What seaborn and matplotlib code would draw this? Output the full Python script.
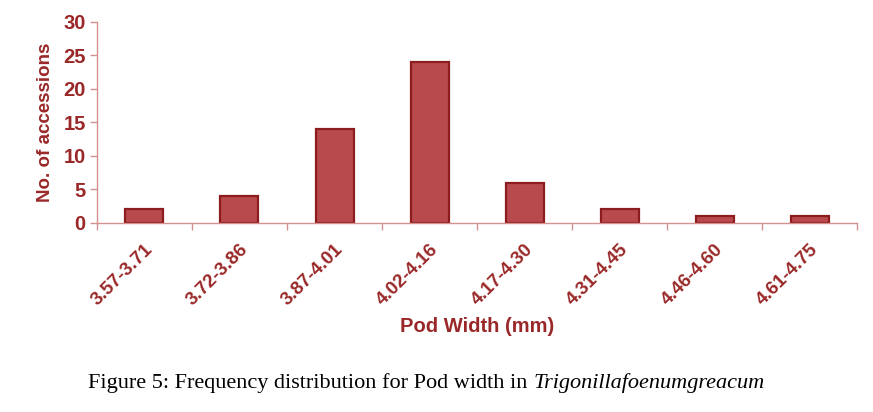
import matplotlib
matplotlib.use("Agg")
import matplotlib.pyplot as plt
import matplotlib.transforms as mtransforms
import seaborn as sns
import pandas as pd

# pod width classes (mm) and number of accessions in each
width_classes = ["3.57-3.71", "3.72-3.86", "3.87-4.01", "4.02-4.16",
                 "4.17-4.30", "4.31-4.45", "4.46-4.60", "4.61-4.75"]
accessions = [2, 4, 14, 24, 6, 2, 1, 1]

y_ticks = [0, 5, 10, 15, 20, 25, 30]

dark_red = "#9a2828"
bar_fill = "#b84a4e"
bar_edge = "#8c1c1e"
axis_col = "#d59090"

sns.set_theme(style="white")
plt.rcParams["font.family"] = ["Liberation Sans", "DejaVu Sans"]

df = pd.DataFrame({"width": width_classes, "count": accessions})

fig = plt.figure(figsize=(8.73, 4.12), dpi=100)
ax = fig.add_axes([0.111, 0.459, 0.871, 0.488])

sns.barplot(data=df, x="width", y="count", ax=ax, color=bar_fill,
            edgecolor=bar_edge, linewidth=1.6, width=0.4, saturation=1)

ax.set_xlim(-0.5, len(width_classes) - 0.5)
ax.set_ylim(0, 30)
ax.set_yticks(y_ticks)
ax.set_yticklabels([str(t) for t in y_ticks], fontsize=14.5,
                   fontweight="bold", color=dark_red)

# category labels sit under the bars, ticks at the class boundaries
ax.set_xticks(range(len(width_classes)))
ax.set_xticklabels(width_classes, rotation=45, ha="right",
                   rotation_mode="anchor", fontsize=13.5,
                   fontweight="bold", color=dark_red)
shift = mtransforms.ScaledTranslation(-7 / 100, 0, fig.dpi_scale_trans)
for lab in ax.get_xticklabels():
    lab.set_transform(lab.get_transform() + shift)
ax.tick_params(axis="x", length=0, pad=13)
ax.set_xticks([i - 0.5 for i in range(len(width_classes) + 1)], minor=True)
ax.tick_params(axis="x", which="minor", length=5, width=1,
               color=axis_col, direction="out", bottom=True)
ax.tick_params(axis="y", length=5, width=1, color=axis_col,
               direction="out", left=True, pad=3)

for side in ["top", "right"]:
    ax.spines[side].set_visible(False)
for side in ["left", "bottom"]:
    ax.spines[side].set_color(axis_col)
    ax.spines[side].set_linewidth(1)

ax.set_xlabel("Pod Width (mm)", fontsize=14.5, fontweight="bold",
              color=dark_red, labelpad=6)
ax.set_ylabel("No. of accessions", fontsize=13.5, fontweight="bold",
              color=dark_red, labelpad=7)

# caption with italic species name
fig.canvas.draw()
cap = fig.text(0.101, 0.058, "Figure 5: Frequency distribution for Pod width in ",
               fontsize=16, family=["Liberation Serif", "DejaVu Serif"],
               color="black", ha="left", va="baseline")
renderer = fig.canvas.get_renderer()
bb = cap.get_window_extent(renderer)
x_end = bb.x1 / fig.bbox.width
fig.text(x_end, 0.058, "Trigonillafoenumgreacum", fontsize=16,
         style="italic", family=["Liberation Serif", "DejaVu Serif"],
         color="black", ha="left", va="baseline")

fig.savefig("out.png", dpi=100, facecolor="white")
